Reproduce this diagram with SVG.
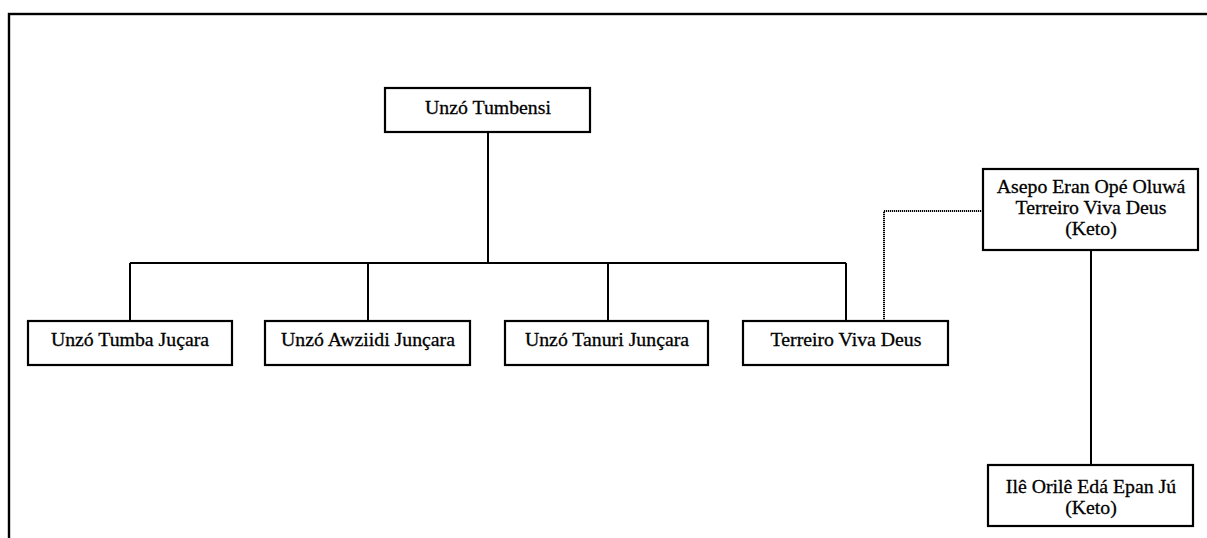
<svg xmlns="http://www.w3.org/2000/svg" width="1207" height="538" viewBox="0 0 1207 538">
<style>
.box{fill:#fff;stroke:#000;stroke-width:2.2}
.lbl{font-family:'Liberation Serif','Times New Roman',serif;font-size:19.8px;fill:#000;text-anchor:middle;stroke:#000;stroke-width:0.3}
.ln{fill:none;stroke:#000;stroke-width:2}
.dot{fill:none;stroke:#000;stroke-width:2;stroke-dasharray:1.2 0.8}
</style>
<rect x="0" y="0" width="1207" height="538" fill="#fff"/>
<rect x="9" y="14" width="1250" height="600" fill="none" stroke="#000" stroke-width="2.4"/>
<g id="connectors">
<path class="ln" d="M488 132 V263 M130 263 H846 M130 263 V321 M368 263 V321 M608 263 V321 M846 263 V321"/>
<path class="dot" d="M884 321 V211 H983"/>
<path class="ln" d="M1091 250 V465"/>
</g>
<g id="n_tumbensi">
<rect class="box" x="385" y="88" width="205" height="44"/>
<text class="lbl" x="488" y="114">Unzó Tumbensi</text>
</g>
<g id="n_tumba">
<rect class="box" x="28" y="321" width="204" height="44"/>
<text class="lbl" x="130" y="346">Unzó Tumba Juçara</text>
</g>
<g id="n_awziidi">
<rect class="box" x="265" y="321" width="205" height="44"/>
<text class="lbl" x="368" y="346">Unzó Awziidi Junçara</text>
</g>
<g id="n_tanuri">
<rect class="box" x="505" y="321" width="203" height="44"/>
<text class="lbl" x="607" y="346">Unzó Tanuri Junçara</text>
</g>
<g id="n_vivadeus">
<rect class="box" x="743" y="321" width="205" height="44"/>
<text class="lbl" x="846" y="346">Terreiro Viva Deus</text>
</g>
<g id="n_asepo">
<rect class="box" x="983" y="169" width="215" height="81"/>
<text class="lbl" x="1091" y="193">Asepo Eran Opé Oluwá</text>
<text class="lbl" x="1091" y="214">Terreiro Viva Deus</text>
<text class="lbl" x="1091" y="235">(Keto)</text>
</g>
<g id="n_ile">
<rect class="box" x="988" y="465" width="205" height="61"/>
<text class="lbl" x="1091" y="493">Ilê Orilê Edá Epan Jú</text>
<text class="lbl" x="1091" y="514">(Keto)</text>
</g>
</svg>
